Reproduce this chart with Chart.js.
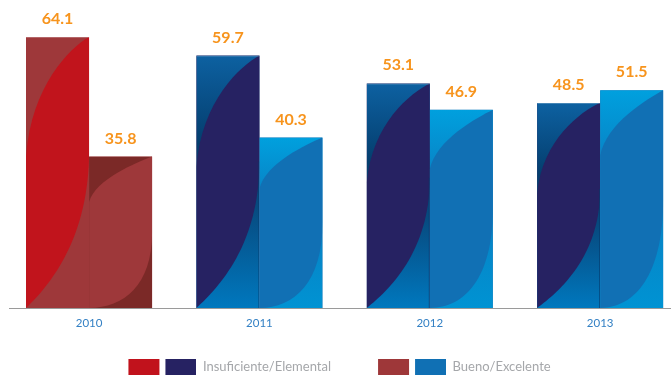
<!DOCTYPE html>
<html lang="es">
<head>
<meta charset="utf-8">
<title>Niveles de logro 2010–2013</title>
<script src="https://cdn.jsdelivr.net/npm/chart.js@4.4.1/dist/chart.umd.min.js"></script>
<style>
  html, body { margin: 0; padding: 0; background: #ffffff; }
  #wrap { position: relative; width: 672px; height: 379px; }
</style>
</head>
<body>
<div id="wrap"><canvas id="chart"></canvas></div>
<script>
// ---- data ----
const years = ['2010', '2011', '2012', '2013'];
const insuficienteElemental = [64.1, 59.7, 53.1, 48.5];
const buenoExcelente = [35.8, 40.3, 46.9, 51.5];
const seriesNames = ['Insuficiente/Elemental', 'Bueno/Excelente'];

// ---- styling ----
// the first year is drawn in warm tones, later years in blues
const warmYears = ['2010'];
const palettes = {
  warm: [
    { fill: [[0, '#9e383a'], [1, '#9e383a']], leaf: '#c1141c', swatch: '#c1121c' },
    { fill: [[0, '#7b2927'], [1, '#7b2927']], leaf: '#9e383a', swatch: '#9e3739' }
  ],
  cool: [
    { fill: [[0, '#0d61a1'], [0.35, '#043d6d'], [0.6, '#074a7f'], [1, '#0078be']], leaf: '#262262', swatch: '#262262', seam: 'rgba(6,58,108,0.7)' },
    { fill: [[0, '#00a0de'], [0.4, '#0a7cbf'], [1, '#0093d3']], leaf: '#1170b4', swatch: '#1070b4' }
  ]
};
// leaf outline inside each bar, in bar-relative units (0..1 across, 0..1 down)
const leafShapes = [
  { upper: [[0.7, 0.04], [0.08, 0.18], [0, 0.44]], lower: [[0.35, 0.92], [1, 0.75], [1, 0.42]] },
  { upper: [[0.75, 0.04], [0.1, 0.15], [0, 0.3]], lower: [[0.55, 1], [1, 0.85], [1, 0.5]] }
];

const paletteFor = (d, i) => (warmYears.includes(years[i]) ? palettes.warm : palettes.cool)[d];

function swatchPair(colors) {
  const c = document.createElement('canvas');
  c.width = 84; c.height = 16;
  const g = c.getContext('2d');
  g.fillStyle = colors[0]; g.fillRect(16, 0, 31, 16);
  g.fillStyle = colors[1]; g.fillRect(53, 0, 31, 16);
  return c;
}

// paints the gradient body and the leaf shape over every bar
const leafBars = {
  id: 'leafBars',
  afterDatasetsDraw(chart) {
    const ctx = chart.ctx;
    chart.data.datasets.forEach((ds, d) => {
      const shape = leafShapes[d];
      chart.getDatasetMeta(d).data.forEach((bar, i) => {
        const { x, y, base, width } = bar.getProps(['x', 'y', 'base', 'width'], true);
        const left = x - width / 2, top = y, w = width, h = base - y;
        const style = paletteFor(d, i);
        ctx.save();
        ctx.beginPath();
        ctx.rect(left, top, w, h);
        ctx.clip();
        const grad = ctx.createLinearGradient(0, top, 0, top + h);
        style.fill.forEach(([o, c]) => grad.addColorStop(o, c));
        ctx.fillStyle = grad;
        ctx.fillRect(left, top, w, h);
        const P = ([u, v]) => [left + u * w, top + v * h];
        ctx.beginPath();
        ctx.moveTo(...P([1, 0]));
        ctx.bezierCurveTo(...P(shape.upper[0]), ...P(shape.upper[1]), ...P(shape.upper[2]));
        ctx.lineTo(...P([0, 1]));
        ctx.bezierCurveTo(...P(shape.lower[0]), ...P(shape.lower[1]), ...P(shape.lower[2]));
        ctx.closePath();
        ctx.fillStyle = style.leaf;
        ctx.fill();
        if (style.seam) {
          const sy = top + shape.lower[2][1] * h;
          ctx.fillStyle = style.seam;
          ctx.fillRect(left + w - 1, sy, 1, base - sy);
        }
        if (d === 0) {
          ctx.fillStyle = 'rgba(255,255,255,0.25)';
          ctx.fillRect(left, top, w, 1);
        }
        ctx.restore();
      });
    });
  }
};

// value printed above each bar
const valueLabels = {
  id: 'valueLabels',
  afterDatasetsDraw(chart) {
    const ctx = chart.ctx;
    ctx.save();
    ctx.font = 'bold 16px Lato';
    ctx.fillStyle = '#f7941d';
    ctx.textAlign = 'center';
    ctx.textBaseline = 'alphabetic';
    chart.data.datasets.forEach((ds, d) => {
      chart.getDatasetMeta(d).data.forEach((bar, i) => {
        ctx.fillText(ds.data[i].y.toFixed(1), bar.x, bar.y - 13);
      });
    });
    ctx.restore();
  }
};

// tighter legend box and wider gap before the second entry
const legendSpacing = {
  id: 'legendSpacing',
  afterInit(chart) {
    const legend = chart.legend;
    const fit = legend.fit;
    legend.fit = function () {
      fit.call(this);
      this.height -= 4;
      if (this.lineWidths) this.lineWidths[0] += 16;
    };
  }
};

const toPoints = arr => arr.map((v, i) => ({ x: i, y: v }));

new Chart(document.getElementById('chart'), {
  type: 'bar',
  data: {
    datasets: [
      {
        label: seriesNames[0],
        data: toPoints(insuficienteElemental),
        backgroundColor: years.map((_, i) => paletteFor(0, i).swatch),
        categoryPercentage: 0.74,
        barPercentage: 1,
        borderWidth: 0
      },
      {
        label: seriesNames[1],
        data: toPoints(buenoExcelente),
        backgroundColor: years.map((_, i) => paletteFor(1, i).swatch),
        categoryPercentage: 0.74,
        barPercentage: 1,
        borderWidth: 0
      }
    ]
  },
  options: {
    responsive: true,
    maintainAspectRatio: false,
    animation: false,
    layout: { padding: { left: 9, right: 2, top: 12, bottom: 0 } },
    scales: {
      x: {
        type: 'linear',
        offset: false,
        min: -0.47,
        max: 3.41,
        afterBuildTicks: scale => { scale.ticks = years.map((_, i) => ({ value: i })); },
        afterFit: scale => { scale.height = 21; },
        ticks: {
          callback: v => years[v],
          color: '#3380c4',
          font: { family: 'Lato', size: 11.5 },
          padding: 8,
          maxRotation: 0,
          autoSkip: false
        },
        grid: { display: false, drawTicks: false },
        border: { display: true, color: '#9a9a9a', width: 1 }
      },
      y: { display: false, min: 0, max: 70 }
    },
    plugins: {
      tooltip: { enabled: false },
      legend: {
        position: 'bottom',
        labels: {
          usePointStyle: true,
          pointStyleWidth: 84,
          padding: 31,
          color: '#a5a7aa',
          font: { family: 'Lato', size: 13 },
          generateLabels: chart => chart.data.datasets.map((ds, d) => ({
            text: ds.label,
            pointStyle: swatchPair([palettes.warm[d].swatch, palettes.cool[d].swatch]),
            fillStyle: 'rgba(0,0,0,0)',
            strokeStyle: 'rgba(0,0,0,0)',
            lineWidth: 0,
            fontColor: '#a5a7aa',
            hidden: false,
            datasetIndex: d
          }))
        }
      }
    }
  },
  plugins: [leafBars, valueLabels, legendSpacing]
});
</script>
</body>
</html>
